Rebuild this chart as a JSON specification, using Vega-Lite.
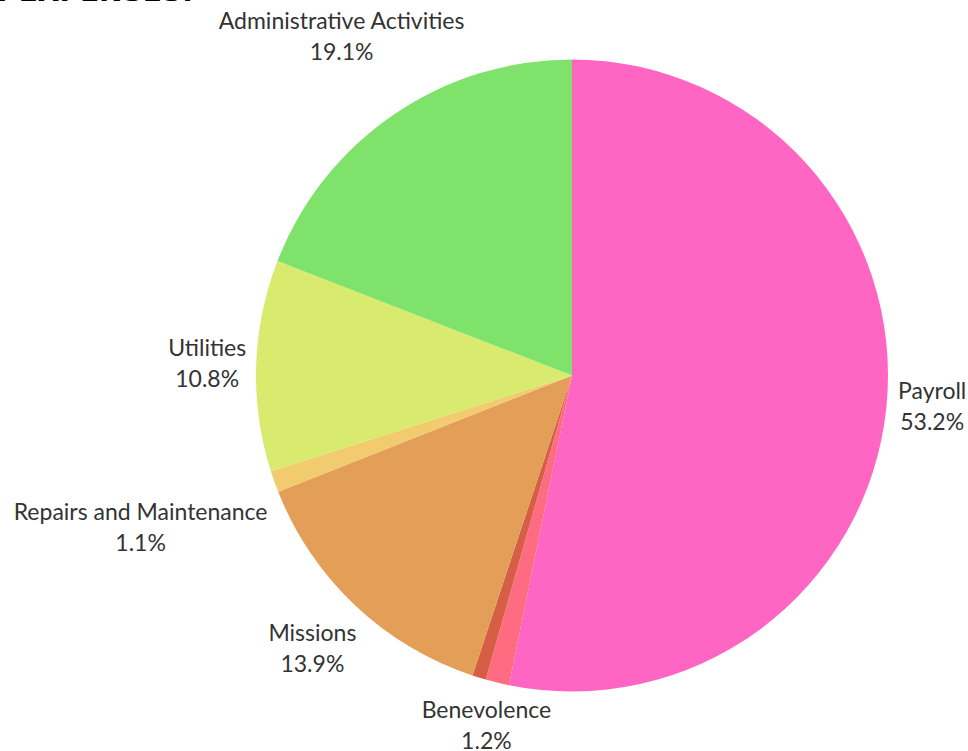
{
  "$schema": "https://vega.github.io/schema/vega-lite/v6.json",
  "width": 792,
  "height": 751,
  "autosize": {"type": "none"},
  "padding": {"left": 176, "top": 0, "right": 0, "bottom": 0},
  "background": "white",
  "title": {
    "text": "2024 EXPENSES:",
    "anchor": "start",
    "frame": "group",
    "orient": "top",
    "offset": -59,
    "baseline": "alphabetic",
    "dx": -245,
    "font": "DejaVu Sans",
    "fontSize": 28,
    "fontWeight": "bold",
    "color": "#000000",
    "limit": 0
  },
  "config": {"view": {"stroke": null}, "title": {"letterSpacing": 2.5}},
  "data": {
    "values": [
      {"name": "Payroll", "pct": 53.2, "rank": 1},
      {"name": "Benevolence", "pct": 1.2, "rank": 2},
      {"name": "Other", "pct": 0.7, "rank": 3},
      {"name": "Missions", "pct": 13.9, "rank": 4},
      {"name": "Repairs and Maintenance", "pct": 1.1, "rank": 5},
      {"name": "Utilities", "pct": 10.8, "rank": 6},
      {"name": "Administrative Activities", "pct": 19.1, "rank": 7}
    ]
  },
  "transform": [
    {"calculate": "datum.name + '\\n' + format(datum.pct, '.1f') + '%'", "as": "label"}
  ],
  "encoding": {
    "theta": {"field": "pct", "type": "quantitative", "stack": true},
    "order": {"field": "rank", "type": "quantitative", "sort": "ascending"}
  },
  "layer": [
    {
      "mark": {"type": "arc", "outerRadius": 316, "stroke": null},
      "encoding": {
        "color": {
          "field": "name",
          "type": "nominal",
          "legend": null,
          "scale": {
            "domain": ["Payroll", "Benevolence", "Other", "Missions", "Repairs and Maintenance", "Utilities", "Administrative Activities"],
            "range": ["#FF66C4", "#FF6B81", "#D55E45", "#E39E57", "#F3CB6F", "#D8EB6E", "#7EE26B"]
          }
        }
      }
    },
    {
      "mark": {"type": "text", "radius": 362, "dy": -19.5, "align": "center", "baseline": "middle", "lineBreak": "\n", "lineHeight": 31, "font": "Lato", "fontSize": 23, "color": "#333333"},
      "encoding": {"text": {"condition": {"test": "datum.name === 'Payroll'", "field": "label"}, "value": ""}}
    },
    {
      "mark": {"type": "text", "radius": 362, "dy": -16.5, "align": "center", "baseline": "middle", "lineBreak": "\n", "lineHeight": 31, "font": "Lato", "fontSize": 23, "color": "#333333"},
      "encoding": {"text": {"condition": {"test": "datum.name === 'Benevolence'", "field": "label"}, "value": ""}}
    },
    {
      "mark": {"type": "text", "radius": 378, "dy": -16.5, "align": "center", "baseline": "middle", "lineBreak": "\n", "lineHeight": 31, "font": "Lato", "fontSize": 23, "color": "#333333"},
      "encoding": {"text": {"condition": {"test": "datum.name === 'Missions'", "field": "label"}, "value": ""}}
    },
    {
      "mark": {"type": "text", "radius": 458, "dy": -16.5, "align": "center", "baseline": "middle", "lineBreak": "\n", "lineHeight": 31, "font": "Lato", "fontSize": 23, "color": "#333333"},
      "encoding": {"text": {"condition": {"test": "datum.name === 'Repairs and Maintenance'", "field": "label"}, "value": ""}}
    },
    {
      "mark": {"type": "text", "radius": 365, "dy": -15, "align": "center", "baseline": "middle", "lineBreak": "\n", "lineHeight": 31, "font": "Lato", "fontSize": 23, "color": "#333333"},
      "encoding": {"text": {"condition": {"test": "datum.name === 'Utilities'", "field": "label"}, "value": ""}}
    },
    {
      "mark": {"type": "text", "radius": 408, "dy": -16.5, "align": "center", "baseline": "middle", "lineBreak": "\n", "lineHeight": 31, "font": "Lato", "fontSize": 23, "color": "#333333"},
      "encoding": {"text": {"condition": {"test": "datum.name === 'Administrative Activities'", "field": "label"}, "value": ""}}
    }
  ]
}
